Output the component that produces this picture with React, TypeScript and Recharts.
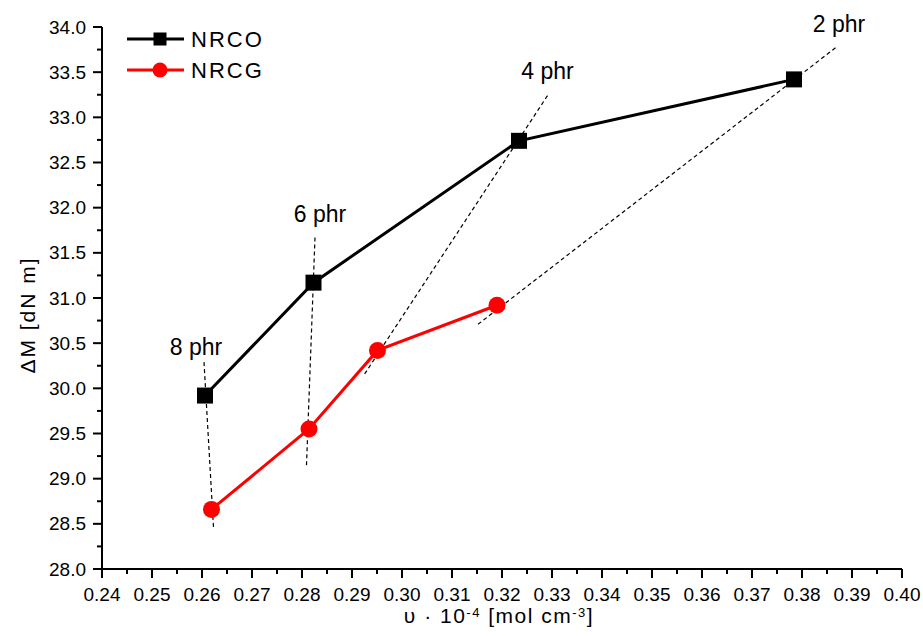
import { LineChart, Line, XAxis, YAxis, ReferenceLine, ReferenceDot, Label } from 'recharts'

// crosslink density (x 10^-4 mol/cm3) vs torque difference
const nrcoX = [0.2606, 0.2823, 0.3234, 0.3784]
const nrcoY = [29.92, 31.17, 32.74, 33.42]
const nrcgX = [0.2619, 0.2814, 0.2951, 0.319]
const nrcgY = [28.66, 29.55, 30.42, 30.92]

const phrLabels = ['8 phr', '6 phr', '4 phr', '2 phr']
// dashed guide lines joining the same filler loading, [x1, y1, x2, y2]
const guideLines = [
  [0.2604, 30.29, 0.2623, 28.46],
  [0.2826, 31.67, 0.2809, 29.15],
  [0.3291, 33.24, 0.2923, 30.14],
  [0.3867, 33.77, 0.315, 30.7],
]
const phrLabelAt = [
  [0.2588, 30.46],
  [0.2836, 31.93],
  [0.3291, 33.51],
  [0.3874, 34.04],
]

const xTicks = [0.24, 0.25, 0.26, 0.27, 0.28, 0.29, 0.3, 0.31, 0.32, 0.33, 0.34, 0.35, 0.36, 0.37, 0.38, 0.39, 0.4]
const xMinor = [0.245, 0.255, 0.265, 0.275, 0.285, 0.295, 0.305, 0.315, 0.325, 0.335, 0.345, 0.355, 0.365, 0.375, 0.385, 0.395]
const yTicks = [28, 28.5, 29, 29.5, 30, 30.5, 31, 31.5, 32, 32.5, 33, 33.5, 34]
const yMinor = [28.25, 28.75, 29.25, 29.75, 30.25, 30.75, 31.25, 31.75, 32.25, 32.75, 33.25, 33.75]

const nrco = nrcoX.map((x, i) => ({ x, y: nrcoY[i] }))
const nrcg = nrcgX.map((x, i) => ({ x, y: nrcgY[i] }))

const isMajor = (list: number[], v: number) => list.some((t) => Math.abs(t - v) < 1e-9)

function XTick({ x, y, payload }: any) {
  const major = isMajor(xTicks, payload.value)
  return (
    <g>
      <line x1={x} y1={y} x2={x} y2={y + (major ? 9 : 5)} stroke="#000" strokeWidth={2} />
      {major && (
        <text x={x} y={y + 32} textAnchor="middle" fontSize={19} fill="#000">
          {payload.value.toFixed(2)}
        </text>
      )}
    </g>
  )
}

function YTick({ x, y, payload }: any) {
  const major = isMajor(yTicks, payload.value)
  return (
    <g>
      <line x1={x} y1={y} x2={x - (major ? 9 : 5)} y2={y} stroke="#000" strokeWidth={2} />
      {major && (
        <text x={x - 16} y={y} dy="0.35em" textAnchor="end" fontSize={19} fill="#000">
          {payload.value.toFixed(1)}
        </text>
      )}
    </g>
  )
}

const squareDot = (size: number) => (p: any) => (
  <rect key={`sq-${p.index}`} x={p.cx - size / 2} y={p.cy - size / 2} width={size} height={size} fill="#000" />
)
const circleDot = (r: number) => (p: any) => (
  <circle key={`ci-${p.index}`} cx={p.cx} cy={p.cy} r={r} fill="#ff0000" />
)

function ChartLegend() {
  return (
    <svg width={180} height={90} style={{ position: 'absolute', left: 120, top: 10 }}>
      <line x1={7} y1={29} x2={64} y2={29} stroke="#000" strokeWidth={3} />
      <rect x={33.5} y={22.5} width={13} height={13} fill="#000" />
      <text x={71} y={29} dy="0.36em" fontSize={22} letterSpacing={2} fill="#000">NRCO</text>
      <line x1={7} y1={60} x2={64} y2={60} stroke="#ff0000" strokeWidth={3} />
      <circle cx={40} cy={60} r={7.5} fill="#ff0000" />
      <text x={71} y={60} dy="0.36em" fontSize={22} letterSpacing={2} fill="#000">NRCG</text>
    </svg>
  )
}

export default function App() {
  return (
    <div
      style={{
        position: 'absolute',
        left: 0,
        top: 0,
        width: 923,
        height: 636,
        background: '#fff',
        fontFamily: '"Liberation Sans", Arial, sans-serif',
      }}
    >
      <LineChart width={923} height={636} margin={{ top: 27, right: 21, bottom: 17, left: 22 }}>
        <XAxis
          type="number"
          dataKey="x"
          domain={[0.24, 0.4]}
          ticks={[...xTicks, ...xMinor].sort((a, b) => a - b)}
          interval={0}
          height={50}
          tickSize={0}
          tickMargin={0}
          tickLine={false}
          tick={<XTick />}
          axisLine={{ stroke: '#000', strokeWidth: 2 }}
          allowDataOverflow
        >
          <Label
            content={() => (
              <text x={499} y={623} textAnchor="middle" fontSize={21} letterSpacing={1.5} fill="#000">
                <tspan>υ · 10</tspan>
                <tspan dy={-6} fontSize={13}>-4</tspan>
                <tspan dy={6}> [mol cm</tspan>
                <tspan dy={-6} fontSize={13}>-3</tspan>
                <tspan dy={6}>]</tspan>
              </text>
            )}
          />
        </XAxis>
        <YAxis
          type="number"
          dataKey="y"
          domain={[28, 34]}
          ticks={[...yTicks, ...yMinor].sort((a, b) => a - b)}
          interval={0}
          width={80}
          tickSize={0}
          tickMargin={0}
          tickLine={false}
          tick={<YTick />}
          axisLine={{ stroke: '#000', strokeWidth: 2 }}
          allowDataOverflow
        >
          <Label
            content={() => (
              <text
                x={27}
                y={315}
                transform="rotate(-90, 27, 315)"
                textAnchor="middle"
                dy="0.36em"
                fontSize={21}
                letterSpacing={2}
                fill="#000"
              >
                ΔM [dN m]
              </text>
            )}
          />
        </YAxis>

        <Line
          data={nrco}
          dataKey="y"
          name="NRCO"
          stroke="#000"
          strokeWidth={3}
          dot={squareDot(16)}
          activeDot={false}
          isAnimationActive={false}
        />
        <Line
          data={nrcg}
          dataKey="y"
          name="NRCG"
          stroke="#ff0000"
          strokeWidth={3}
          dot={circleDot(8.5)}
          activeDot={false}
          isAnimationActive={false}
        />

        {guideLines.map(([x1, y1, x2, y2], i) => (
          <ReferenceLine
            key={`g-${i}`}
            segment={[{ x: x1, y: y1 }, { x: x2, y: y2 }]}
            stroke="#000"
            strokeWidth={1.2}
            strokeDasharray="4 3"
            ifOverflow="visible"
          />
        ))}
        {phrLabels.map((txt, i) => (
          <ReferenceDot
            key={`l-${i}`}
            x={phrLabelAt[i][0]}
            y={phrLabelAt[i][1]}
            r={0}
            fill="none"
            stroke="none"
            ifOverflow="visible"
            label={{ value: txt, position: 'center', fill: '#000', fontSize: 23 }}
          />
        ))}
      </LineChart>
      <ChartLegend />
    </div>
  )
}
